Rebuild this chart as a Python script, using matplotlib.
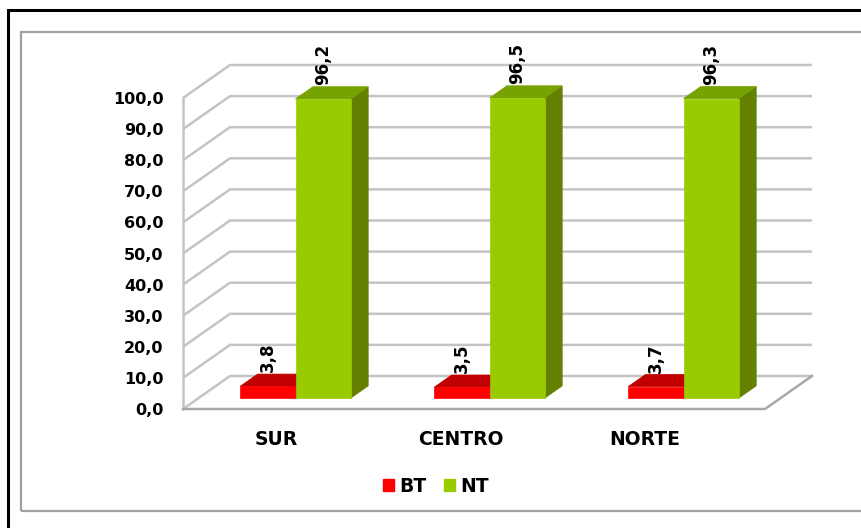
import matplotlib
matplotlib.use("Agg")
import matplotlib.pyplot as plt
from matplotlib.patches import Polygon, Rectangle, Patch

# Regions and percentages
regions = ["SUR", "CENTRO", "NORTE"]
bt = [3.8, 3.5, 3.7]
nt = [96.2, 96.5, 96.3]
series_names = ["BT", "NT"]
yticks = [0, 10, 20, 30, 40, 50, 60, 70, 80, 90, 100]

# colours: front, top, side
red = ("#FF0000", "#C00000", "#A00000")
green = ("#99CC00", "#76A300", "#638000")
grid_col = "#C4C4C4"

W, H = 861, 528
fig = plt.figure(figsize=(W / 100, H / 100), dpi=100)
fig.patch.set_facecolor("white")

# front plane of the fake 3D box
left, right, bottom, top = 183, 765, 409, 98
ax = fig.add_axes([left / W, 1 - bottom / H, (right - left) / W, (bottom - top) / H])
ax.set_xlim(0, 3)
ax.set_ylim(0, 100)
for s in ax.spines.values():
    s.set_visible(False)
ax.patch.set_alpha(0)

# depth of the box in data units
DX = 47 / ((right - left) / 3)
DY = 33 / ((bottom - top) / 100)
d0, d1 = 0.33, 0.70
bw = 0.285

def fmt(v):
    return f"{v:.1f}".replace(".", ",")

# walls and grid
for v in yticks:
    ax.plot([0, DX, 3 + DX], [v, v + DY, v + DY], color=grid_col, lw=1.8,
            clip_on=False, zorder=1, solid_capstyle="butt")
ax.plot([0, 0], [0, 100], color=grid_col, lw=1.8, clip_on=False, zorder=1)
ax.plot([0, 3, 3 + DX], [0, 0, DY], color="#A8A8A8", lw=1.8, clip_on=False, zorder=1)


def bar3d(x0, v, cols):
    x1 = x0 + bw
    front = [(x0 + d0 * DX, d0 * DY), (x1 + d0 * DX, d0 * DY),
             (x1 + d0 * DX, v + d0 * DY), (x0 + d0 * DX, v + d0 * DY)]
    topf = [(x0 + d0 * DX, v + d0 * DY), (x1 + d0 * DX, v + d0 * DY),
            (x1 + d1 * DX, v + d1 * DY), (x0 + d1 * DX, v + d1 * DY)]
    side = [(x1 + d0 * DX, d0 * DY), (x1 + d1 * DX, d1 * DY),
            (x1 + d1 * DX, v + d1 * DY), (x1 + d0 * DX, v + d0 * DY)]
    for pts, c in ((side, cols[2]), (topf, cols[1]), (front, cols[0])):
        ax.add_patch(Polygon(pts, closed=True, facecolor=c, edgecolor=c,
                             lw=0.5, clip_on=False, zorder=3))
    ax.text(x0 + bw / 2 + d0 * DX, v + d1 * DY + 0.6, fmt(v), rotation=90,
            ha="center", va="bottom", fontsize=12, fontweight="bold",
            color="black", zorder=4, clip_on=False)


for i in range(len(regions)):
    bar3d(i + 0.5 - bw, bt[i], red)
    bar3d(i + 0.5, nt[i], green)

ax.set_yticks(yticks, [fmt(v) for v in yticks])
ax.set_xticks([0.48 + 0.95 * i for i in range(len(regions))], regions)
ax.tick_params(axis="y", length=0, pad=14, labelsize=11.5)
ax.tick_params(axis="x", length=0, pad=15, labelsize=13.5)
for lab in ax.get_yticklabels() + ax.get_xticklabels():
    lab.set_fontweight("bold")
for lab in ax.get_yticklabels():
    lab.set_y(lab.get_position()[1])
    lab.set_va("center_baseline")

handles = [Patch(facecolor=red[0], edgecolor=red[0]),
           Patch(facecolor=green[0], edgecolor=green[0])]
fig.legend(handles, series_names, loc="center", bbox_to_anchor=(436 / W, 1 - 486 / H),
           ncol=2, frameon=False, handlelength=0.6, handleheight=0.6,
           handletextpad=0.3, columnspacing=0.9,
           prop={"size": 13.5, "weight": "bold"})

# chart area border and outer frame
fig.add_artist(Rectangle((20.5 / W, 1 - 511 / H), 845 / W, 479 / H,
                         transform=fig.transFigure, fill=False,
                         edgecolor="#A0A0A0", lw=1.6))
fig.add_artist(Rectangle((8 / W, 1 - 540 / H), 870 / W, 530 / H,
                         transform=fig.transFigure, fill=False,
                         edgecolor="black", lw=2.2))

fig.savefig("out.png", dpi=100)
